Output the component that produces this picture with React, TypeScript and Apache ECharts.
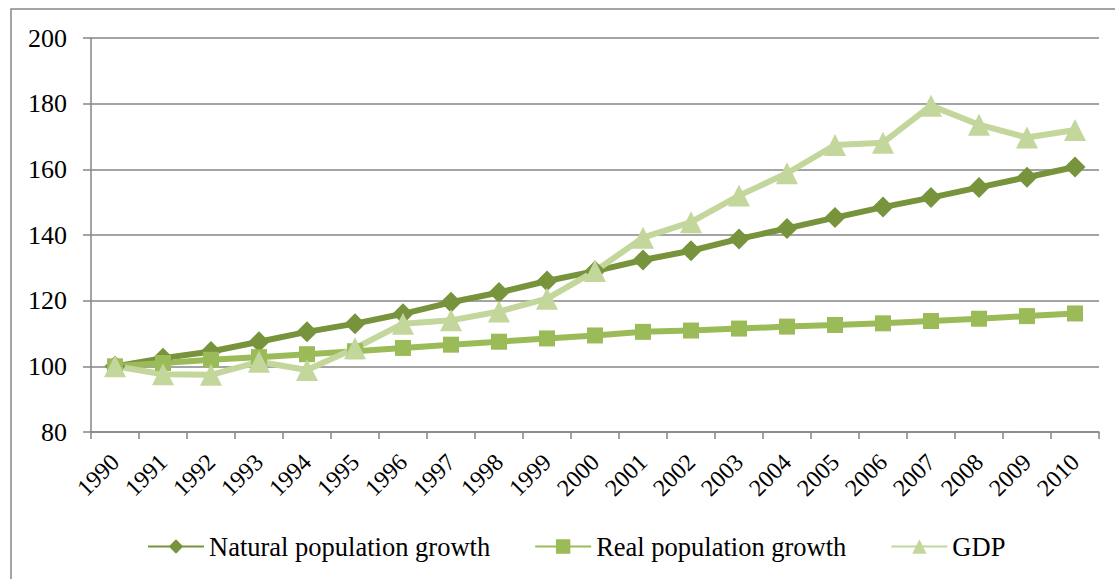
import React, { useEffect, useRef } from "react";
import * as echarts from "echarts";

const years = ["1990","1991","1992","1993","1994","1995","1996","1997","1998","1999","2000","2001","2002","2003","2004","2005","2006","2007","2008","2009","2010"];
const naturalGrowth = [100, 102.5, 104.5, 107.5, 110.5, 113, 116, 119.5, 122.5, 126, 129, 132.4, 135.2, 138.8, 142, 145.3, 148.5, 151.4, 154.5, 157.6, 160.7];
const realGrowth = [100, 101, 102, 102.8, 103.7, 104.6, 105.6, 106.6, 107.5, 108.5, 109.4, 110.5, 110.9, 111.5, 112.1, 112.6, 113.1, 113.8, 114.5, 115.3, 116.1];
const gdp = [100, 97.6, 97.4, 101.4, 98.9, 105.5, 113, 114, 116.7, 120.6, 129, 139.2, 143.9, 152, 158.8, 167.4, 168.1, 179.4, 173.6, 169.7, 172];
const seriesNames = ["Natural population growth", "Real population growth", "GDP"];
const yTicks = { min: 80, max: 200, interval: 20 };

const FONT = "Liberation Serif";
const GRAY = "#868686";

export default function App() {
  const ref = useRef<HTMLDivElement>(null);
  useEffect(() => {
    if (!ref.current) return;
    const chart = echarts.init(ref.current, null, { renderer: "svg" });
    chart.setOption({
      animation: false,
      backgroundColor: "#ffffff",
      textStyle: { fontFamily: FONT },
      graphic: [
        {
          type: "rect",
          shape: { x: 11, y: 9, width: 1200, height: 700 },
          style: { fill: "none", stroke: GRAY, lineWidth: 1.5 },
          silent: true,
        },
      ],
      grid: { left: 91, right: 16, top: 38, bottom: 147 },
      legend: {
        data: seriesNames,
        left: 142,
        top: 528,
        itemWidth: 56,
        itemHeight: 18,
        itemGap: 44,
        textStyle: { fontFamily: FONT, fontSize: 26.5, color: "#000" },
      },
      xAxis: {
        type: "category",
        data: years,
        boundaryGap: true,
        axisLine: { lineStyle: { color: GRAY, width: 1.5 } },
        axisTick: { show: true, length: 7, interval: 0, lineStyle: { color: GRAY, width: 1.5 } },
        axisLabel: {
          interval: 0,
          rotate: 45,
          margin: 26,
          fontFamily: FONT,
          fontSize: 24,
          color: "#000",
        },
        splitLine: { show: false },
      },
      yAxis: {
        type: "value",
        min: yTicks.min,
        max: yTicks.max,
        interval: yTicks.interval,
        axisLine: { show: true, lineStyle: { color: GRAY, width: 1.5 } },
        axisTick: { show: true, length: 8, lineStyle: { color: GRAY, width: 1.5 } },
        axisLabel: { margin: 24, fontFamily: FONT, fontSize: 26, color: "#000" },
        splitLine: { show: true, lineStyle: { color: GRAY, width: 1.5 } },
      },
      series: [
        {
          name: seriesNames[0],
          type: "line",
          data: naturalGrowth,
          symbol: "diamond",
          symbolSize: 21,
          itemStyle: { color: "#77933C" },
          lineStyle: { color: "#77933C", width: 6 },
        },
        {
          name: seriesNames[1],
          type: "line",
          data: realGrowth,
          symbol: "rect",
          symbolSize: 16,
          itemStyle: { color: "#9BBB59" },
          lineStyle: { color: "#9BBB59", width: 6 },
        },
        {
          name: seriesNames[2],
          type: "line",
          data: gdp,
          symbol: "triangle",
          symbolSize: 22,
          itemStyle: { color: "#C3D69B" },
          lineStyle: { color: "#C3D69B", width: 6 },
        },
      ],
    });
    return () => chart.dispose();
  }, []);
  return (
    <div
      ref={ref}
      style={{ position: "fixed", left: 0, top: 0, width: 1115, height: 579, background: "#fff" }}
    />
  );
}
